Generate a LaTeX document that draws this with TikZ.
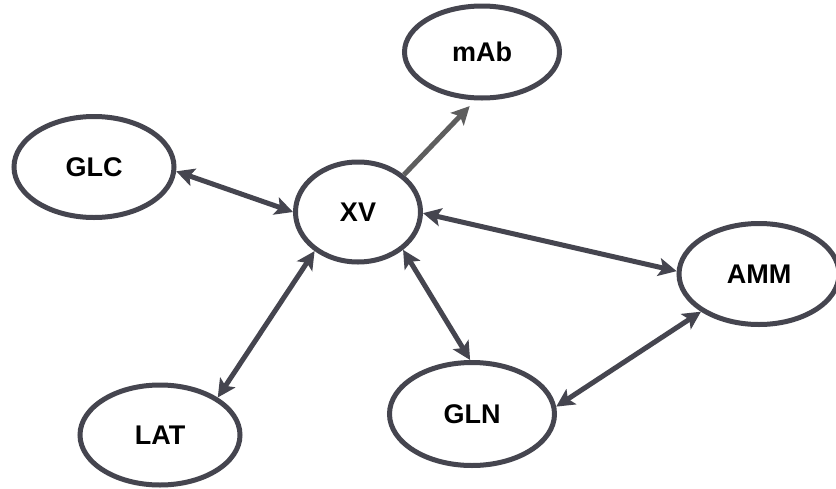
\documentclass[tikz,border=0pt]{standalone}
\usepackage{fontspec}
\setmainfont{Liberation Sans}
\usetikzlibrary{shapes.geometric,arrows.meta}
\definecolor{edgec}{HTML}{45454F}
\definecolor{grayc}{HTML}{5E5E5E}
\tikzset{
  bubble/.style={ellipse, draw=edgec, line width=5pt, fill=white, inner sep=0pt,
    font=\fontsize{27}{32}\selectfont\bfseries},
  link/.style={draw=edgec, line width=5pt, {Stealth[length=18pt,width=18pt,inset=4pt]}-{Stealth[length=18pt,width=18pt,inset=4pt]}},
  onelink/.style={draw=grayc, line width=5pt, -{Stealth[length=18pt,width=18pt,inset=4pt]}},
}
\begin{document}
\begin{tikzpicture}[x=1pt,y=-1pt]
\useasboundingbox[fill=white] (0,0) rectangle (836,488);
\node[bubble, minimum width=155pt, minimum height=92pt] (mab) at (482,52) {mAb};
\node[bubble, minimum width=160pt, minimum height=101pt] (glc) at (94,167) {GLC};
\node[bubble, minimum width=125pt, minimum height=100pt] (xv) at (358,212) {XV};
\node[bubble, minimum width=160pt, minimum height=101pt] (amm) at (759,274) {AMM};
\node[bubble, minimum width=165pt, minimum height=103pt] (gln) at (472,414) {GLN};
\node[bubble, minimum width=160pt, minimum height=100pt] (lat) at (160,435) {LAT};
\draw[link] (glc.-3) -- (xv.180);
\draw[onelink, shorten >=8pt] (xv.39) -- (mab.-98);
\draw[link] (xv.-1) -- (amm.178);
\draw[link] (xv.-138) -- (lat.33);
\draw[link] (xv.-40) -- (gln.92);
\draw[link] (gln.5) -- (amm.-147);
\end{tikzpicture}
\end{document}
